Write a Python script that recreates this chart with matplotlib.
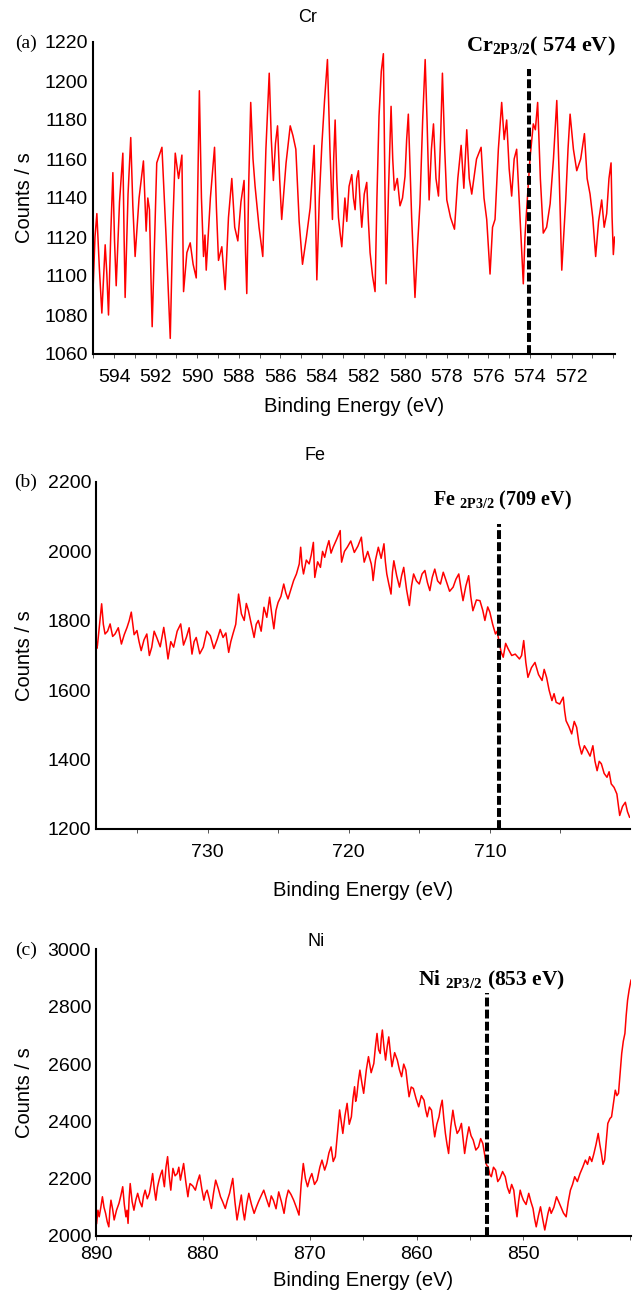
import matplotlib
matplotlib.use("Agg")
import matplotlib.pyplot as plt

plt.rcParams['font.family'] = ['Liberation Sans', 'DejaVu Sans']
plt.rcParams['mathtext.fontset'] = 'custom'
plt.rcParams['mathtext.rm'] = 'Liberation Serif'
plt.rcParams['mathtext.bf'] = 'Liberation Serif:bold'

# Cr 2p spectrum
cr_energy = [595.02, 594.92, 594.83, 594.71, 594.59, 594.51, 594.43, 594.35, 594.27, 594.16,
             594.06, 593.98, 593.90, 593.74, 593.58, 593.52, 593.47, 593.33, 593.20, 593.10,
             592.99, 592.80, 592.59, 592.52, 592.46, 592.38, 592.30, 592.23, 592.17, 591.95,
             591.70, 591.50, 591.30, 591.18, 591.06, 590.90, 590.74, 590.70, 590.66, 590.50,
             590.34, 590.20, 590.05, 589.97, 589.90, 589.80, 589.70, 589.63, 589.57, 589.37,
             589.17, 589.08, 588.98, 588.82, 588.66, 588.50, 588.34, 588.20, 588.05, 587.90,
             587.75, 587.68, 587.62, 587.52, 587.43, 587.32, 587.22, 587.03, 586.85, 586.70,
             586.54, 586.44, 586.34, 586.24, 586.14, 586.04, 585.94, 585.73, 585.53, 585.40,
             585.26, 585.10, 584.94, 584.75, 584.57, 584.47, 584.38, 584.31, 584.25, 584.13,
             584.01, 583.88, 583.74, 583.62, 583.50, 583.44, 583.37, 583.29, 583.21, 583.13,
             583.05, 582.90, 582.81, 582.70, 582.57, 582.49, 582.41, 582.33, 582.25, 582.17,
             582.09, 581.97, 581.85, 581.77, 581.69, 581.57, 581.45, 581.36, 581.26, 581.15,
             581.05, 580.98, 580.92, 580.80, 580.68, 580.60, 580.52, 580.38, 580.25, 580.13,
             580.01, 579.93, 579.85, 579.69, 579.53, 579.41, 579.29, 579.16, 579.04, 578.95,
             578.85, 578.74, 578.64, 578.52, 578.40, 578.30, 578.21, 578.10, 578.00, 577.82,
             577.63, 577.47, 577.31, 577.18, 577.04, 576.92, 576.80, 576.57, 576.35, 576.21,
             576.08, 576.00, 575.92, 575.80, 575.68, 575.52, 575.36, 575.24, 575.12, 575.00,
             574.88, 574.76, 574.64, 574.48, 574.32, 574.24, 574.16, 574.00, 573.84, 573.74,
             573.63, 573.50, 573.36, 573.20, 573.03, 572.87, 572.71, 572.59, 572.47, 572.38,
             572.28, 572.17, 572.07, 571.91, 571.75, 571.56, 571.38, 571.25, 571.11, 570.98,
             570.84, 570.70, 570.55, 570.43, 570.31, 570.20, 570.10, 570.05, 569.99, 569.93,
             569.86]
cr_counts = [1091, 1120, 1132, 1104, 1081, 1098, 1116, 1101, 1080, 1122,
             1153, 1118, 1095, 1138, 1163, 1120, 1089, 1142, 1171, 1136,
             1110, 1140, 1159, 1140, 1123, 1140, 1134, 1100, 1074, 1158,
             1166, 1120, 1068, 1125, 1163, 1150, 1162, 1128, 1092, 1112,
             1117, 1106, 1099, 1150, 1195, 1140, 1110, 1121, 1103, 1140,
             1166, 1135, 1108, 1115, 1093, 1130, 1150, 1125, 1118, 1138,
             1149, 1112, 1091, 1150, 1189, 1160, 1146, 1125, 1110, 1165,
             1204, 1170, 1149, 1168, 1177, 1150, 1129, 1158, 1177, 1172,
             1165, 1128, 1106, 1120, 1135, 1152, 1167, 1130, 1098, 1140,
             1167, 1190, 1211, 1165, 1129, 1160, 1180, 1150, 1130, 1122,
             1115, 1140, 1128, 1146, 1152, 1140, 1134, 1150, 1154, 1138,
             1125, 1142, 1148, 1128, 1112, 1100, 1092, 1140, 1182, 1205,
             1214, 1150, 1096, 1145, 1187, 1160, 1144, 1150, 1136, 1140,
             1151, 1170, 1183, 1130, 1089, 1115, 1137, 1180, 1211, 1180,
             1139, 1165, 1178, 1150, 1141, 1170, 1204, 1165, 1139, 1130,
             1124, 1150, 1167, 1145, 1175, 1150, 1142, 1160, 1166, 1140,
             1129, 1115, 1101, 1125, 1129, 1165, 1189, 1170, 1180, 1155,
             1141, 1160, 1165, 1130, 1096, 1120, 1134, 1160, 1178, 1175,
             1189, 1150, 1122, 1125, 1137, 1160, 1190, 1150, 1103, 1120,
             1139, 1165, 1183, 1165, 1154, 1160, 1173, 1150, 1142, 1130,
             1110, 1128, 1139, 1125, 1132, 1150, 1158, 1130, 1111, 1120,
             1118]

# Fe 2p spectrum
fe_energy = [737.90, 737.85, 737.80, 737.65, 737.50, 737.38, 737.26, 737.08, 736.90, 736.72,
             736.55, 736.32, 736.10, 735.90, 735.70, 735.55, 735.40, 735.20, 735.00, 734.85,
             734.70, 734.50, 734.30, 734.12, 733.95, 733.78, 733.60, 733.35, 733.10, 732.95,
             732.80, 732.60, 732.40, 732.15, 731.90, 731.70, 731.50, 731.30, 731.10, 730.95,
             730.80, 730.55, 730.30, 730.05, 729.80, 729.55, 729.30, 729.10, 728.90, 728.70,
             728.50, 728.35, 728.20, 728.00, 727.80, 727.60, 727.40, 727.25, 727.10, 726.90,
             726.70, 726.55, 726.40, 726.20, 726.00, 725.80, 725.60, 725.45, 725.30, 725.15,
             725.00, 724.80, 724.60, 724.45, 724.30, 724.10, 723.90, 723.70, 723.50, 723.45,
             723.40, 723.30, 723.20, 723.00, 722.80, 722.65, 722.50, 722.45, 722.40, 722.20,
             722.00, 721.85, 721.70, 721.55, 721.40, 721.25, 721.10, 720.85, 720.60, 720.55,
             720.50, 720.30, 720.10, 719.85, 719.60, 719.35, 719.10, 719.00, 718.90, 718.65,
             718.40, 718.33, 718.27, 718.10, 717.90, 717.70, 717.50, 717.40, 717.30, 717.15,
             717.00, 716.90, 716.80, 716.60, 716.40, 716.25, 716.10, 715.90, 715.70, 715.55,
             715.40, 715.20, 715.00, 714.80, 714.60, 714.42, 714.25, 714.08, 713.90, 713.70,
             713.50, 713.30, 713.10, 712.85, 712.60, 712.40, 712.20, 712.05, 711.90, 711.70,
             711.50, 711.35, 711.20, 710.95, 710.70, 710.50, 710.35, 710.15, 710.00, 709.80,
             709.60, 709.48, 709.36, 709.20, 709.05, 708.88, 708.70, 708.45, 708.20, 707.90,
             707.75, 707.60, 707.45, 707.30, 707.05, 706.80, 706.55, 706.30, 706.15, 705.98,
             705.80, 705.60, 705.45, 705.30, 705.05, 704.80, 704.70, 704.60, 704.40, 704.20,
             704.02, 703.85, 703.68, 703.50, 703.30, 703.10, 702.90, 702.70, 702.55, 702.40,
             702.25, 702.10, 701.90, 701.70, 701.55, 701.40, 701.20, 701.00, 700.90, 700.80,
             700.60, 700.40, 700.25, 700.10]
fe_counts = [1752, 1720, 1728, 1790, 1849, 1790, 1762, 1770, 1791, 1755,
             1762, 1780, 1733, 1760, 1781, 1800, 1825, 1760, 1772, 1740,
             1714, 1745, 1762, 1700, 1724, 1770, 1752, 1725, 1781, 1740,
             1690, 1740, 1724, 1770, 1791, 1730, 1752, 1780, 1704, 1740,
             1752, 1705, 1724, 1770, 1757, 1720, 1748, 1775, 1752, 1765,
             1709, 1740, 1762, 1790, 1877, 1820, 1801, 1850, 1829, 1790,
             1752, 1790, 1801, 1770, 1839, 1810, 1868, 1820, 1777, 1830,
             1853, 1870, 1906, 1880, 1863, 1890, 1916, 1935, 1964, 1990,
             2012, 1960, 1935, 1975, 1964, 1990, 2026, 1970, 1925, 1970,
             1954, 2000, 1983, 2010, 2031, 1995, 2012, 2035, 2060, 2000,
             1969, 2000, 2012, 2030, 1997, 2015, 2041, 2000, 1969, 2000,
             1964, 1945, 1916, 1975, 2012, 1980, 2022, 1970, 1935, 1905,
             1877, 1940, 1973, 1930, 1897, 1930, 1954, 1890, 1844, 1900,
             1935, 1915, 1906, 1935, 1945, 1910, 1887, 1925, 1949, 1915,
             1906, 1940, 1916, 1885, 1897, 1920, 1935, 1895, 1858, 1900,
             1930, 1870, 1829, 1860, 1858, 1830, 1801, 1840, 1825, 1790,
             1762, 1770, 1743, 1710, 1695, 1735, 1719, 1700, 1704, 1690,
             1700, 1743, 1680, 1637, 1665, 1680, 1645, 1628, 1660, 1637,
             1600, 1570, 1590, 1565, 1560, 1580, 1540, 1512, 1495, 1474,
             1510, 1493, 1445, 1416, 1440, 1426, 1410, 1440, 1395, 1368,
             1395, 1388, 1360, 1349, 1365, 1330, 1320, 1301, 1270, 1239,
             1265, 1277, 1250, 1234]

# Ni 2p spectrum
ni_energy = [889.94, 889.82, 889.70, 889.55, 889.40, 889.25, 889.10, 888.95, 888.80, 888.70,
             888.60, 888.45, 888.30, 888.08, 887.85, 887.68, 887.50, 887.35, 887.20, 887.10,
             887.00, 886.90, 886.80, 886.62, 886.45, 886.28, 886.10, 885.90, 885.70, 885.55,
             885.40, 885.20, 885.00, 884.85, 884.70, 884.55, 884.40, 884.25, 884.10, 883.95,
             883.80, 883.70, 883.60, 883.45, 883.30, 883.15, 883.00, 882.90, 882.80, 882.60,
             882.40, 882.25, 882.10, 881.95, 881.80, 881.60, 881.40, 881.30, 881.20, 880.95,
             880.70, 880.50, 880.30, 880.10, 879.90, 879.75, 879.60, 879.40, 879.20, 879.00,
             878.80, 878.55, 878.35, 878.15, 877.90, 877.70, 877.50, 877.35, 877.20, 877.00,
             876.80, 876.60, 876.40, 876.25, 876.10, 875.90, 875.70, 875.45, 875.20, 875.00,
             874.80, 874.55, 874.30, 874.05, 873.80, 873.60, 873.40, 873.15, 872.90, 872.65,
             872.40, 872.20, 872.00, 871.75, 871.50, 871.25, 871.00, 870.80, 870.60, 870.40,
             870.20, 870.00, 869.80, 869.55, 869.30, 869.05, 868.85, 868.60, 868.40, 868.20,
             868.00, 867.80, 867.60, 867.40, 867.20, 867.05, 866.90, 866.70, 866.50, 866.30,
             866.10, 865.95, 865.80, 865.70, 865.60, 865.45, 865.30, 865.10, 864.95, 864.70,
             864.50, 864.25, 864.00, 863.85, 863.70, 863.55, 863.40, 863.30, 863.20, 863.05,
             862.90, 862.75, 862.60, 862.45, 862.30, 862.05, 861.80, 861.60, 861.40, 861.20,
             861.00, 860.85, 860.70, 860.50, 860.30, 860.05, 859.80, 859.55, 859.30, 859.15,
             859.00, 858.80, 858.60, 858.45, 858.30, 858.10, 857.90, 857.75, 857.60, 857.45,
             857.30, 857.15, 857.00, 856.80, 856.60, 856.40, 856.20, 856.00, 855.80, 855.65,
             855.50, 855.30, 855.10, 854.90, 854.70, 854.45, 854.20, 854.00, 853.80, 853.65,
             853.50, 853.40, 853.30, 853.15, 853.00, 852.80, 852.60, 852.40, 852.20, 851.95,
             851.70, 851.50, 851.30, 851.10, 850.90, 850.75, 850.60, 850.45, 850.30, 850.15,
             850.00, 849.75, 849.50, 849.30, 849.10, 848.95, 848.80, 848.60, 848.40, 848.20,
             848.00, 847.85, 847.70, 847.55, 847.40, 847.15, 846.90, 846.70, 846.50, 846.25,
             846.00, 845.80, 845.60, 845.40, 845.20, 844.95, 844.70, 844.45, 844.20, 844.00,
             843.80, 843.60, 843.40, 843.20, 843.00, 842.85, 842.70, 842.55, 842.40, 842.25,
             842.10, 841.90, 841.75, 841.55, 841.40, 841.25, 841.10, 840.95, 840.80, 840.65,
             840.50, 840.38, 840.25, 840.10, 839.93]
ni_counts = [2044, 2090, 2067, 2100, 2137, 2100, 2079, 2050, 2032, 2090,
             2125, 2095, 2056, 2090, 2114, 2140, 2172, 2110, 2067, 2090,
             2044, 2130, 2183, 2120, 2090, 2125, 2149, 2120, 2102, 2140,
             2160, 2130, 2149, 2180, 2218, 2165, 2125, 2170, 2195, 2215,
             2230, 2195, 2172, 2240, 2277, 2210, 2160, 2200, 2236, 2210,
             2218, 2240, 2195, 2225, 2253, 2190, 2137, 2165, 2183, 2175,
             2160, 2190, 2213, 2165, 2125, 2150, 2160, 2130, 2096, 2150,
             2195, 2165, 2137, 2120, 2096, 2125, 2149, 2175, 2201, 2120,
             2056, 2100, 2143, 2090, 2056, 2110, 2149, 2110, 2079, 2100,
             2119, 2140, 2160, 2130, 2102, 2140, 2125, 2095, 2154, 2120,
             2079, 2130, 2160, 2145, 2125, 2100, 2073, 2180, 2253, 2200,
             2172, 2200, 2218, 2180, 2195, 2240, 2265, 2230, 2253, 2290,
             2311, 2260, 2277, 2360, 2440, 2400, 2358, 2420, 2463, 2390,
             2416, 2480, 2521, 2470, 2486, 2540, 2579, 2530, 2498, 2580,
             2626, 2570, 2602, 2660, 2707, 2650, 2637, 2690, 2719, 2660,
             2614, 2660, 2695, 2640, 2591, 2640, 2614, 2580, 2556, 2600,
             2579, 2530, 2486, 2520, 2515, 2480, 2451, 2490, 2474, 2440,
             2416, 2450, 2439, 2390, 2346, 2390, 2416, 2450, 2474, 2410,
             2358, 2320, 2288, 2380, 2439, 2390, 2358, 2370, 2393, 2340,
             2288, 2340, 2381, 2350, 2335, 2300, 2311, 2340, 2323, 2290,
             2253, 2245, 2242, 2215, 2207, 2240, 2230, 2190, 2201, 2225,
             2207, 2170, 2149, 2180, 2160, 2110, 2067, 2120, 2160, 2140,
             2125, 2110, 2149, 2120, 2096, 2060, 2032, 2070, 2102, 2060,
             2021, 2050, 2079, 2100, 2079, 2100, 2137, 2120, 2102, 2080,
             2067, 2120, 2160, 2180, 2207, 2190, 2218, 2240, 2265, 2250,
             2277, 2260, 2288, 2320, 2358, 2320, 2288, 2250, 2265, 2330,
             2393, 2410, 2416, 2470, 2509, 2490, 2498, 2570, 2637, 2680,
             2707, 2770, 2823, 2860, 2893]

# tick values
cr_xticks = [594, 592, 590, 588, 586, 584, 582, 580, 578, 576, 574, 572]
fe_xticks = [730, 720, 710]
ni_xticks = [890, 880, 870, 860, 850]

# peak marker positions (eV) and top of the dashed line (counts/s)
peak_pos = [574.05, 709.36, 853.4]
peak_top = [1206, 2079, 2847]

titles = ['Cr', 'Fe', 'Ni']
letters = ['(a)', '(b)', '(c)']
peak_labels = [r'Cr$_{\mathbf{2P3/2}}$( 574 eV)',
               r'Fe $_{\mathbf{2P3/2}}$ (709 eV)',
               r'Ni $_{\mathbf{2P3/2}}$ (853 eV)']

W, H = 636.0, 1295.0


def fx(x):
    return x / W


def fy(y):
    return 1 - y / H


fig = plt.figure(figsize=(6.36, 12.95), dpi=100)

panels = [
    # data, axes box px (left, right, top, bottom), xlim, ylim, ystep, major ticks, minor step
    (cr_energy, cr_counts, (92.7, 615, 42, 354), (595.03, 569.91), (1060, 1220), 20, cr_xticks, 1),
    (fe_energy, fe_counts, (96, 630, 482, 829), (737.9, 700.07), (1200, 2200), 200, fe_xticks, 5),
    (ni_energy, ni_counts, (96, 631, 949.5, 1236), (890, 839.93), (2000, 3000), 200, ni_xticks, 5),
]
# text positions in px
title_xy = [(308, 18), (315, 455), (316, 941)]
letter_xy = [(26, 43), (26, 482), (26, 950)]
plabel_xy = [(541, 51), (502, 505), (492, 985)]
plabel_size = [16, 14.5, 15.5]
xlabel_y = [406, 890, 1281]
xtick_pad = [7.5, 7.5, 4]

for i, (en, cnt, box, xl, yl, ystep, xt, xmin) in enumerate(panels):
    left, right, top, bottom = box
    ax = fig.add_axes([fx(left), fy(bottom), (right - left) / W, (bottom - top) / H])
    ax.plot(en, cnt, color='red', lw=1.1)
    ax.vlines(peak_pos[i], yl[0], peak_top[i], colors='black', lw=2.9,
              linestyles=(0, (2.2, 0.8)), zorder=3)
    ax.set_xlim(xl)
    ax.set_ylim(yl)
    ax.set_yticks(range(yl[0], yl[1] + 1, ystep))
    ax.set_xticks(xt)
    lo, hi = int(min(xl)) + 1, int(max(xl))
    ax.set_xticks([v for v in range(lo, hi + 1) if v % xmin == 0 and v not in xt], minor=True)
    for s in ['top', 'right']:
        ax.spines[s].set_visible(False)
    for s in ['left', 'bottom']:
        ax.spines[s].set_linewidth(1.5)
    ax.tick_params(axis='y', length=0, pad=3.5, labelsize=14)
    ax.tick_params(axis='x', which='both', length=3, width=0.7, color='#555555',
                   pad=xtick_pad[i], labelsize=14)
    ax.set_ylabel('Counts / s', fontsize=14.5)
    ax.yaxis.set_label_coords((25 - left) / (right - left), 0.5)
    ax.yaxis.label.set_va('center')

    fig.text(fx((left + right) / 2), fy(xlabel_y[i]), 'Binding Energy (eV)',
             fontsize=14.5, ha='center', va='center')
    fig.text(fx(title_xy[i][0]), fy(title_xy[i][1]), titles[i],
             fontsize=13, ha='center', va='center')
    fig.text(fx(letter_xy[i][0]), fy(letter_xy[i][1]), letters[i],
             fontsize=14, family='Liberation Serif', ha='center', va='center')
    fig.text(fx(plabel_xy[i][0]), fy(plabel_xy[i][1]), peak_labels[i],
             fontsize=plabel_size[i], family='Liberation Serif', weight='bold',
             ha='center', va='baseline')

fig.savefig('out.png', dpi=100)
